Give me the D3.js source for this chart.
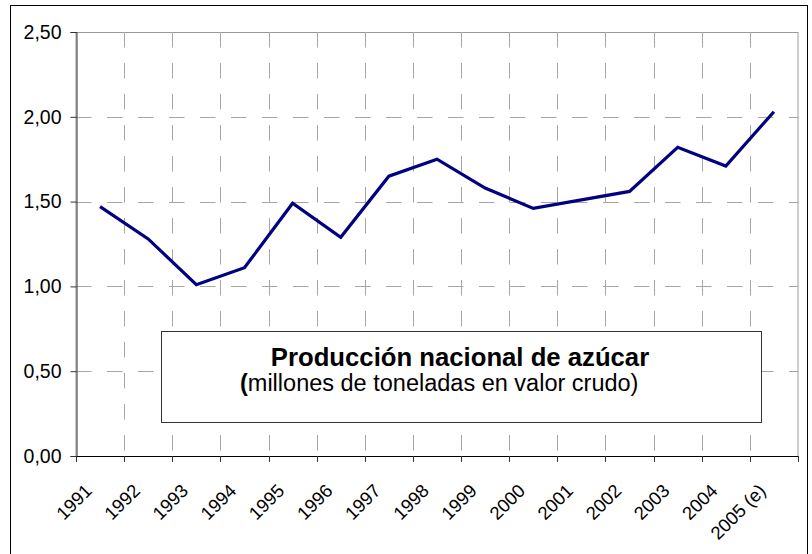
<!DOCTYPE html>
<html>
<head>
<meta charset="utf-8">
<script src="https://cdn.jsdelivr.net/npm/d3@7"></script>
<style>
  html, body { margin: 0; padding: 0; background: #fff; }
  svg { display: block; font-family: "Liberation Sans", Arial, sans-serif; }
</style>
</head>
<body>
<svg id="chart" width="812" height="554"></svg>
<script>
// Producción nacional de azúcar, millones de toneladas en valor crudo
const years = ["1991", "1992", "1993", "1994", "1995", "1996", "1997", "1998",
               "1999", "2000", "2001", "2002", "2003", "2004", "2005 (e)"];
const production = [1.47, 1.28, 1.01, 1.11, 1.49, 1.29, 1.65, 1.75,
                    1.58, 1.46, 1.51, 1.56, 1.82, 1.71, 2.03];
const yTicks = [0, 0.5, 1.0, 1.5, 2.0, 2.5];
const titleMain = "Producción nacional de azúcar";
const titleSub = "millones de toneladas en valor crudo)";

const svg = d3.select("#chart");
const plot = { left: 76, right: 798, top: 32, bottom: 456 };

const x = d3.scaleBand().domain(years).range([plot.left, plot.right]).padding(0);
const y = d3.scaleLinear().domain([0, 2.5]).range([plot.bottom, plot.top]);
const fmt = v => d3.format(".2f")(v).replace(".", ",");

// outer frame
svg.append("rect")
  .attr("x", 10.5).attr("y", 5.5).attr("width", 797).attr("height", 560)
  .attr("fill", "none").attr("stroke", "#000").attr("stroke-width", 1);

// plot area border
svg.append("rect")
  .attr("x", plot.left).attr("y", plot.top + 0.5)
  .attr("width", plot.right - plot.left).attr("height", plot.bottom - plot.top)
  .attr("fill", "none").attr("stroke", "#9a9a9a").attr("stroke-width", 1);

// horizontal gridlines
svg.append("g").selectAll("line")
  .data(yTicks.filter(v => v > 0 && v < 2.5))
  .join("line")
  .attr("x1", plot.left).attr("x2", plot.right)
  .attr("y1", d => Math.round(y(d)) + 0.5).attr("y2", d => Math.round(y(d)) + 0.5)
  .attr("stroke", "#a6a6a6").attr("stroke-width", 1)
  .attr("stroke-dasharray", "15.5,15.5");

// vertical gridlines at category boundaries
svg.append("g").selectAll("line")
  .data(years.slice(1))
  .join("line")
  .attr("x1", d => Math.round(x(d)) + 0.5).attr("x2", d => Math.round(x(d)) + 0.5)
  .attr("y1", plot.top).attr("y2", plot.bottom)
  .attr("stroke", "#a6a6a6").attr("stroke-width", 1)
  .attr("stroke-dasharray", "15.5,15.5");

// y axis
const yAxis = svg.append("g")
  .attr("transform", `translate(${plot.left + 0.5},0)`)
  .call(d3.axisLeft(y).tickValues(yTicks).tickFormat(fmt).tickSize(6).tickPadding(9));
yAxis.select(".domain").attr("stroke", "#333");
yAxis.selectAll(".tick line").attr("stroke", "#333");
yAxis.selectAll("text")
  .attr("font-size", 19.5).attr("fill", "#000")
  .attr("font-family", "'Liberation Sans', Arial, sans-serif");

// x axis: ticks at category boundaries
const boundaries = years.map(d => x(d)).concat([plot.right]);
const xAxisG = svg.append("g");
xAxisG.append("line")
  .attr("x1", plot.left).attr("x2", plot.right)
  .attr("y1", plot.bottom + 0.5).attr("y2", plot.bottom + 0.5)
  .attr("stroke", "#000");
xAxisG.selectAll("line.tk")
  .data(boundaries)
  .join("line").attr("class", "tk")
  .attr("x1", d => Math.round(d) + 0.5).attr("x2", d => Math.round(d) + 0.5)
  .attr("y1", plot.bottom).attr("y2", plot.bottom + 6)
  .attr("stroke", "#333");
xAxisG.selectAll("text")
  .data(years)
  .join("text")
  .attr("text-anchor", "end")
  .attr("font-size", 18.5)
  .attr("transform", d => `translate(${x(d) + x.bandwidth() / 2 - 7},${plot.bottom + 36}) rotate(-45)`)
  .text(d => d);

// production line
const line = d3.line()
  .x(d => x(d.year) + x.bandwidth() / 2)
  .y(d => y(d.value));
svg.append("path")
  .datum(years.map((yr, i) => ({ year: yr, value: production[i] })))
  .attr("d", line)
  .attr("fill", "none")
  .attr("stroke", "#000080")
  .attr("stroke-width", 3.2)
  .attr("stroke-linejoin", "miter");

// title box
const box = svg.append("g");
box.append("rect")
  .attr("x", 161.5).attr("y", 331.5).attr("width", 600).attr("height", 91)
  .attr("fill", "#fff").attr("stroke", "#333").attr("stroke-width", 1);
box.append("text")
  .attr("x", 460).attr("y", 366)
  .attr("text-anchor", "middle")
  .attr("font-size", 25.7).attr("font-weight", "bold")
  .text(titleMain);
const sub = box.append("text")
  .attr("x", 240).attr("y", 391)
  .attr("font-size", 23.5);
sub.append("tspan").attr("font-weight", "bold").text("(");
sub.append("tspan").text(titleSub);
</script>
</body>
</html>
